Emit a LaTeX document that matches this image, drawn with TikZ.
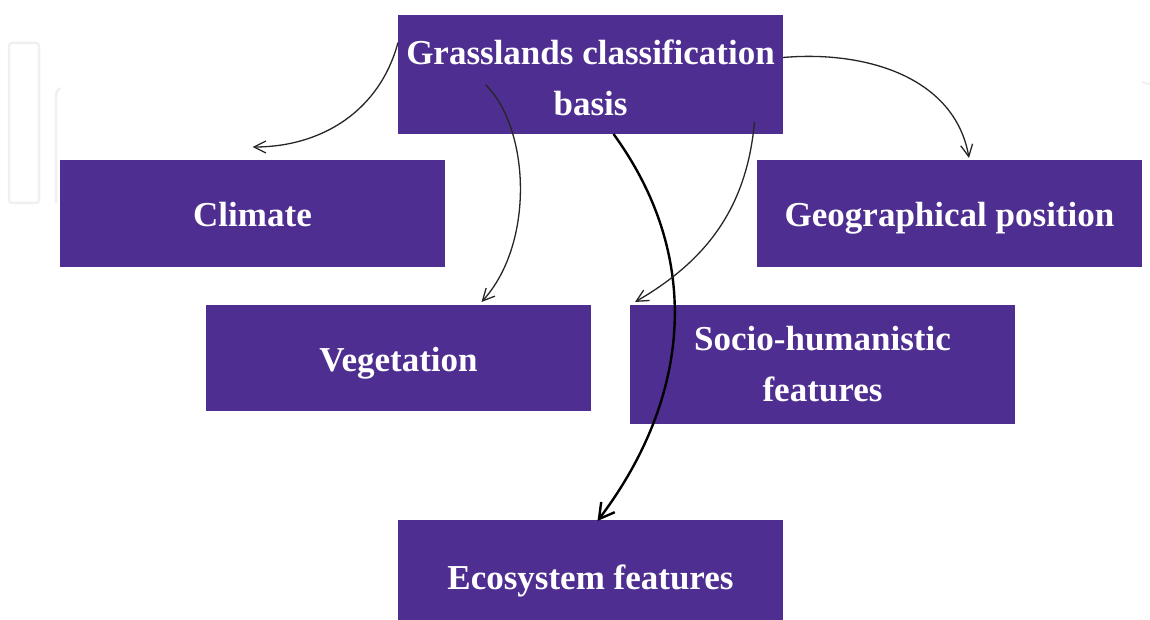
\documentclass[tikz,border=0pt]{standalone}
\usepackage{fontspec}
\setmainfont{Liberation Serif}
\usetikzlibrary{arrows.meta}
\definecolor{boxpurple}{RGB}{79,46,145}
\definecolor{faint}{RGB}{240,240,240}
\begin{document}
\begin{tikzpicture}[x=1pt,y=-1pt,
  catbox/.style={fill=boxpurple,draw=none,inner sep=0pt,outer sep=0pt,
    minimum width=385pt,text=white,align=center,
    font=\fontsize{35}{51}\selectfont\bfseries},
  oneline/.style={text height=26pt,text depth=0pt},
  link/.style={draw=black!85,line width=1.3pt,-{Straight Barb[length=12pt,width=12pt]}},
  heavylink/.style={draw=black,line width=2.4pt,-{Straight Barb[length=15pt,width=17pt]}}]
\useasboundingbox (0,0) rectangle (1150,620);
% faint background marks
\draw[faint,line width=2.5pt,rounded corners=3pt] (9,43) rectangle (39,203);
\draw[faint,line width=2.5pt,rounded corners=3pt] (60,88) -- (56,92) -- (56,203);
\draw[faint,line width=2pt] (1142,82) arc[start angle=120,end angle=60,radius=14];
% category boxes
\node[catbox,minimum height=119pt] (basis) at (590.5,74.5) {\rule{0pt}{32pt}Grasslands classification\\basis};
\node[catbox,oneline,minimum height=107pt] (climate) at (252.5,213.5) {Climate};
\node[catbox,oneline,minimum height=107pt] (geo) at (949.5,213.5) {Geographical position};
\node[catbox,oneline,minimum height=106pt] (veg) at (398.5,358) {Vegetation};
\node[catbox,minimum height=119pt] (socio) at (822.5,364.5) {Socio-humanistic\\features};
\node[catbox,oneline,minimum height=112pt] (eco) at (590.5,576) {Ecosystem features};
% connectors
\draw[link] ([yshift=32pt]basis.west) to[out=-105,in=0] ([yshift=13pt]climate.north);
\draw[link] ([xshift=-105pt,yshift=-10pt]basis.center)
  .. controls +(45,45) and +(53,-58) .. ([xshift=83pt,yshift=3pt]veg.north);
\draw[heavylink] ([xshift=23pt]basis.south)
  .. controls +(91,125) and +(92,-122) .. ([xshift=7pt,yshift=-1pt]eco.north);
\draw[link] ([xshift=164pt,yshift=-47pt]basis.center) to[out=-95,in=30] ([xshift=5pt,yshift=3pt]socio.north west);
\draw[link] ([yshift=17pt]basis.east) to[out=5,in=100] ([xshift=19.5pt,yshift=2pt]geo.north);
\end{tikzpicture}
\end{document}
